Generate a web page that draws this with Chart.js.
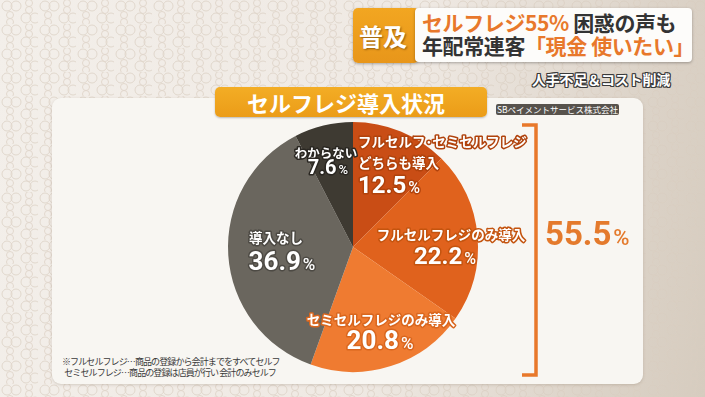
<!DOCTYPE html>
<html><head><meta charset="utf-8">
<script src="https://cdn.jsdelivr.net/npm/chart.js@4.4.1/dist/chart.umd.min.js"></script>
<style>
html,body{margin:0;padding:0;}
body{width:705px;height:397px;overflow:hidden;position:relative;font-family:"Noto Sans CJK JP","Noto Sans",sans-serif;
 background-color:#ece6de;
 background-image:url("data:image/svg+xml;utf8,<svg xmlns='http://www.w3.org/2000/svg' width='38' height='24'><g fill='none' stroke='%23d9cdc0' stroke-width='1' opacity='0.7'><circle cx='7' cy='6' r='5'/><circle cx='16' cy='6' r='5'/><circle cx='29' cy='3' r='3.5'/><circle cx='29' cy='10' r='3.5'/><circle cx='26' cy='18' r='5'/><circle cx='35' cy='18' r='5'/><circle cx='10' cy='15' r='3.5'/><circle cx='10' cy='22' r='3.5'/></g></svg>"),linear-gradient(100deg,#f3efea 0%,#efe9e3 55%,#dcd3c8 85%,#d6ccbf 100%);}
#panel{position:absolute;left:52px;top:98px;width:591px;height:286px;background:#f8f6f2;border-radius:9px;box-shadow:0 1px 3px rgba(120,100,80,0.25);}
#title{position:absolute;left:215px;top:87px;width:272px;height:30px;border-radius:5px;background:linear-gradient(#f3ad25,#eb9c18);color:#fff;font-weight:700;font-size:22px;line-height:30px;text-align:center;text-indent:-10px;box-shadow:0 1px 2px rgba(0,0,0,0.25);}
#src{position:absolute;left:496px;top:104px;width:123px;height:11px;border-radius:2px;background:#57524c;color:#fff;font-size:8.5px;line-height:11px;text-align:center;}
#fuk{position:absolute;left:353px;top:8px;width:66px;height:55px;border-radius:5px;background:linear-gradient(#f2a621,#e8961a);color:#fff;font-weight:700;font-size:24px;line-height:55px;text-indent:6px;text-shadow:1px 1px 2px rgba(90,50,0,0.6);box-shadow:0 1px 3px rgba(0,0,0,0.3);}
#head{position:absolute;left:415px;top:8px;width:277px;height:54px;border-radius:4px;background:#fdfcfa;box-shadow:0 1px 3px rgba(0,0,0,0.3);font-weight:700;font-size:21px;color:#333;}
#head div{position:absolute;left:7px;white-space:nowrap;line-height:24px;letter-spacing:-0.4px;}
.or{color:#e8782b;}
#sub{position:absolute;left:532px;top:69px;font-size:14px;font-weight:700;color:#fff;white-space:nowrap;letter-spacing:-0.2px;
 text-shadow:-1px -1px 0 #3a3a3a,1px -1px 0 #3a3a3a,-1px 1px 0 #3a3a3a,1px 1px 0 #3a3a3a,0 1px 0 #3a3a3a,0 -1px 0 #3a3a3a,1px 0 0 #3a3a3a,-1px 0 0 #3a3a3a;}
#note{position:absolute;left:62px;top:356px;font-size:9px;color:#3a3a3a;line-height:11px;white-space:nowrap;letter-spacing:-0.9px;}
canvas{position:absolute;left:0;top:0;}
</style></head>
<body>
<div id="panel"></div>
<div id="fuk">普及</div>
<div id="head"><div style="top:2px"><span class="or">セルフレジ55%</span> 困惑の声も</div><div style="top:25px">年配常連客<span class="or">「現金 使いたい」</span></div></div>
<div id="sub">人手不足＆コスト削減</div>
<div id="title">セルフレジ導入状況</div>
<div id="src">SBペイメントサービス株式会社</div>
<div id="note">※フルセルフレジ…商品の登録から会計までをすべてセルフ<br>&nbsp;&nbsp;セミセルフレジ…商品の登録は店員が行い 会計のみセルフ</div>
<canvas id="c" width="705" height="397"></canvas>
<script>
// ---- data ----
const categories = ["フルセルフ･セミセルフレジ\nどちらも導入", "フルセルフレジのみ導入", "セミセルフレジのみ導入", "導入なし", "わからない"];
const values = [12.5, 22.2, 20.8, 36.9, 7.6];
const adoptedIdx = [0, 1, 2];
// ---- styles ----
const colors = ["#c94d15", "#e0621d", "#ef7b31", "#6a665e", "#3e3a32"];
const strokeCols = ["#b0420c", "#c4540f", "#d9661e", "#4d4a44", "#2a2722"];
const labelStyle = [
  {rf:0.55, dx:-21.3, dy:0.5, align:"left", lineDx:0, lineDy:[-42,-21], ls:13.5, ps:24},
  {rf:0.75, dx:-1.4, dy:17, align:"center", lineDx:6, lineDy:[-21], ls:13.5, ps:24},
  {rf:0.75, dx:-1.4, dy:3.7, align:"center", lineDx:1, lineDy:[-20], ls:13.5, ps:26},
  {rf:0.6, dx:3.8, dy:9, align:"center", lineDx:-6, lineDy:[-23], ls:13.5, ps:26},
  {rf:0.7, dx:-4.3, dy:5, align:"center", lineDx:-2, lineDy:[-14], ls:12.5, ps:20}
];
const JP = '"Noto Sans CJK JP", sans-serif';
const NUM = 'Roboto, "Noto Sans", sans-serif';

function outlined(ctx, txt, x, y, stroke) {
  ctx.lineJoin = "round";
  ctx.lineWidth = 3;
  ctx.strokeStyle = stroke;
  ctx.strokeText(txt, x, y);
  ctx.fillStyle = "#fff";
  ctx.fillText(txt, x, y);
}
function drawPct(ctx, v, x, y, align, size, stroke, fill) {
  const num = v.toFixed(1), pct = "%";
  const ps = Math.round(size * 0.66);
  ctx.font = "700 " + size + "px " + NUM;
  const w1 = ctx.measureText(num).width;
  ctx.font = "500 " + ps + "px " + NUM;
  const w2 = ctx.measureText(pct).width;
  const tot = w1 + 2 + w2;
  let sx = align === "left" ? x : x - tot / 2;
  const base = y + size * 0.36;
  ctx.textAlign = "left"; ctx.textBaseline = "alphabetic";
  ctx.font = "700 " + size + "px " + NUM;
  if (stroke) outlined(ctx, num, sx, base, stroke); else { ctx.fillStyle = fill; ctx.fillText(num, sx, base); }
  ctx.font = "500 " + ps + "px " + NUM;
  if (stroke) outlined(ctx, pct, sx + w1 + 2, base, stroke); else { ctx.fillStyle = fill; ctx.fillText(pct, sx + w1 + 2, base); }
}

const labelPlugin = {
  id: "sliceLabels",
  afterDatasetsDraw(chart) {
    const ctx = chart.ctx;
    const meta = chart.getDatasetMeta(0);
    ctx.save();
    let minY = Infinity, maxY = -Infinity, cx = 0, R = 0;
    meta.data.forEach((arc, i) => {
      const p = arc.getProps(["x", "y", "startAngle", "endAngle", "outerRadius"], true);
      cx = p.x; R = p.outerRadius;
      minY = p.y - R; maxY = p.y + R;
      const mid = (p.startAngle + p.endAngle) / 2;
      const st = labelStyle[i];
      const ax = p.x + Math.cos(mid) * R * st.rf + st.dx;
      const ay = p.y + Math.sin(mid) * R * st.rf + st.dy;
      const lines = categories[i].split("\n");
      ctx.font = "700 " + st.ls + "px " + JP;
      ctx.textAlign = st.align; ctx.textBaseline = "middle";
      lines.forEach((ln, k) => outlined(ctx, ln, ax + st.lineDx, ay + st.lineDy[k], strokeCols[i]));
      drawPct(ctx, values[i], ax, ay, st.align, st.ps, strokeCols[i]);
    });
    // bracket for adopted total
    const bx = cx + R + 58;
    ctx.strokeStyle = "#e8782b"; ctx.lineWidth = 3.5; ctx.lineJoin = "miter"; ctx.lineCap = "butt";
    ctx.beginPath();
    ctx.moveTo(bx - 14, minY + 3); ctx.lineTo(bx, minY + 3); ctx.lineTo(bx, maxY + 3); ctx.lineTo(bx - 14, maxY + 3);
    ctx.stroke();
    const total = adoptedIdx.reduce((s, k) => s + values[k], 0);
    drawPct(ctx, total, bx + 9, (minY + maxY) / 2 - 14, "left", 33, null, "#e47a2c");
    ctx.restore();
  }
};

new Chart(document.getElementById("c"), {
  type: "pie",
  data: { labels: categories, datasets: [{ data: values, backgroundColor: colors, borderWidth: 0 }] },
  options: {
    responsive: false, animation: false, devicePixelRatio: 1,
    layout: { padding: { left: 228, right: 227, top: 122, bottom: 25 } },
    plugins: { legend: { display: false }, tooltip: { enabled: false } }
  },
  plugins: [labelPlugin]
});
</script>
</body></html>
